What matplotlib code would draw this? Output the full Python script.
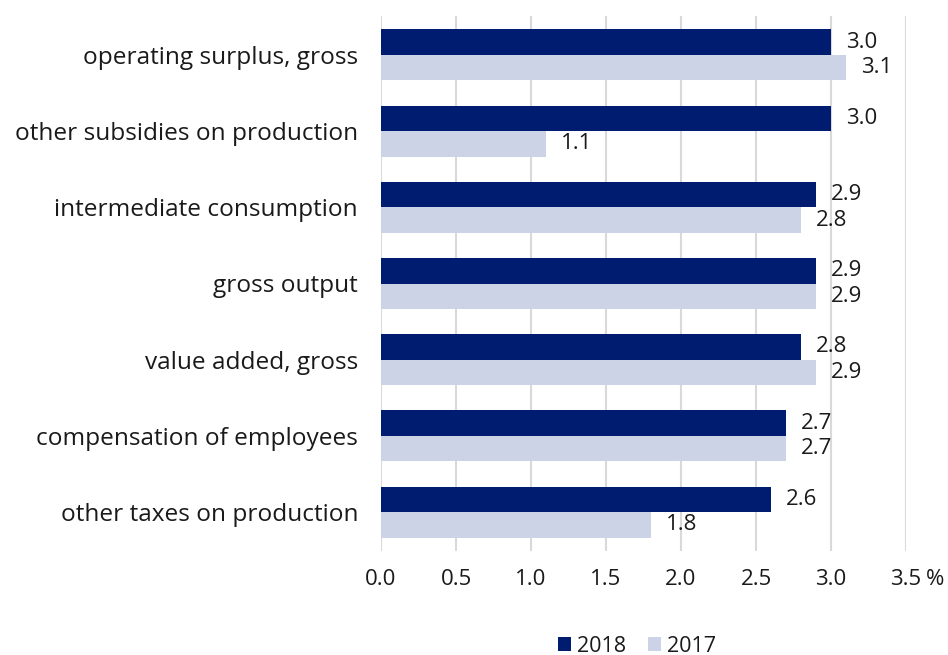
import numpy as np
import matplotlib.pyplot as plt

categories = ['operating surplus, gross', 'other subsidies on production',
              'intermediate consumption', 'gross output', 'value added, gross',
              'compensation of employees', 'other taxes on production']
values_2018 = [3.0, 3.0, 2.9, 2.9, 2.8, 2.7, 2.6]
values_2017 = [3.1, 1.1, 2.8, 2.9, 2.9, 2.7, 1.8]
xticks = [0.0, 0.5, 1.0, 1.5, 2.0, 2.5, 3.0, 3.5]
xtick_labels = ['0.0', '0.5', '1.0', '1.5', '2.0', '2.5', '3.0', '3.5']

plt.rcParams['font.family'] = ['Open Sans', 'DejaVu Sans']
text_color = '#1a1a1a'
dark = '#001c71'
light = '#cdd3e6'

fig = plt.figure(figsize=(9.48, 6.55), dpi=100)
ax = fig.add_axes([381 / 948, 1 - 551 / 655, (906 - 381) / 948, (551 - 16) / 655])

y = np.arange(len(categories))
h = 0.335
ax.barh(y - h / 2, values_2018, height=h, color=dark, label='2018', zorder=2)
ax.barh(y + h / 2, values_2017, height=h, color=light, label='2017', zorder=2)

for yi, v in zip(y, values_2018):
    ax.text(v + 0.1, yi - h / 2, f'{v:.1f}', va='center', ha='left', fontsize=16, color=text_color)
for yi, v in zip(y, values_2017):
    ax.text(v + 0.1, yi + h / 2, f'{v:.1f}', va='center', ha='left', fontsize=16, color=text_color)

ax.set_ylim(len(categories) - 0.49, -0.51)
ax.set_xlim(0, 3.5)
ax.set_yticks(y)
ax.set_yticklabels(categories, fontsize=17.6, color=text_color)
ax.set_xticks(xticks)
ax.set_xticklabels(xtick_labels, fontsize=16, color=text_color)
ax.tick_params(axis='y', length=0, pad=16.5)
ax.tick_params(axis='x', length=0, pad=13)
# unit sign next to the last tick label
ax.annotate('%', xy=(3.5, 0), xycoords=('data', 'axes fraction'), xytext=(14.5, -13),
            textcoords='offset points', ha='left', va='top', fontsize=16, color=text_color)
ax.grid(axis='x', color='#d9d9d9', linewidth=1.5, zorder=0)
for s in ax.spines.values():
    s.set_visible(False)

fig.legend(loc='center', bbox_to_anchor=(637 / 948, 1 - 646 / 655), ncol=2, frameon=False,
           fontsize=15.5, handlelength=0.6, handleheight=0.6, handletextpad=0.3, columnspacing=1.0,
           labelcolor=text_color)

fig.savefig('out.png', dpi=100)
